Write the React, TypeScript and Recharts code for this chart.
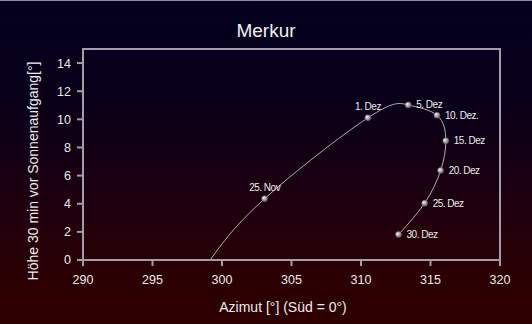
import React from 'react'
import { LineChart, Line, XAxis, YAxis, ReferenceArea } from 'recharts'

// Merkur – Höhe 30 min vor Sonnenaufgang, Nov/Dez
const DATES = ['', '25. Nov', '1. Dez', '5. Dez', '10. Dez.', '15. Dez', '20. Dez', '25. Dez', '30. Dez']
const AZIMUTH = [299.15, 303.07, 310.5, 313.4, 315.47, 316.1, 315.73, 314.58, 312.7]
const ALTITUDE = [0, 4.36, 10.11, 11.02, 10.29, 8.47, 6.36, 4.04, 1.81]

const X_TICKS = [290, 295, 300, 305, 310, 315, 320]
const Y_TICKS = [0, 2, 4, 6, 8, 10, 12, 14]

const data = DATES.map((date, i) => ({ date, az: AZIMUTH[i], alt: ALTITUDE[i] }))

const LABEL_ABOVE = new Set(['25. Nov', '1. Dez'])

const FONT = '"Liberation Sans", Arial, sans-serif'
const AXIS = '#a29cab'
const TEXT = '#ececec'

const Dot = (props: any) => {
  const { cx, cy, payload, index } = props
  if (!payload.date) return <g key={`d${index}`} />
  const above = LABEL_ABOVE.has(payload.date)
  return (
    <g key={`d${index}`}>
      <circle cx={cx} cy={cy} r={3} fill="url(#ball)" stroke="#6c6c70" strokeWidth={0.5} />
      <text
        x={above ? cx : cx + 8}
        y={above ? cy - 8 : cy + 3.5}
        textAnchor={above ? 'middle' : 'start'}
        fontSize={10}
        letterSpacing={-0.5}
        fill={TEXT}
        fontFamily={FONT}
      >
        {payload.date}
      </text>
    </g>
  )
}

export default function App() {
  return (
    <div
      style={{
        position: 'fixed',
        left: 0,
        top: 0,
        width: 532,
        height: 324,
        borderTop: '1px solid #8c8c9c',
        boxSizing: 'border-box',
        background: 'linear-gradient(to bottom, #03001e 0%, #080019 30%, #1c0010 60%, #2b0004 85%, #2e0000 100%)',
        fontFamily: FONT,
      }}
    >
      <LineChart width={532} height={323} data={data} margin={{ top: 48, right: 32, bottom: 39, left: 53 }}>
        <XAxis
          dataKey="az"
          type="number"
          domain={[290, 320]}
          ticks={X_TICKS}
          interval={0}
          height={25}
          stroke={AXIS}
          strokeWidth={2}
          tickSize={6}
          tickMargin={9}
          tick={{ fill: TEXT, fontSize: 12.5, fontFamily: FONT }}
        />
        <YAxis
          dataKey="alt"
          type="number"
          domain={[0, 15]}
          ticks={Y_TICKS}
          interval={0}
          width={30}
          stroke={AXIS}
          strokeWidth={2}
          tickSize={6}
          tickMargin={6}
          tick={{ fill: TEXT, fontSize: 12.5, fontFamily: FONT }}
        />
        <ReferenceArea x1={290} x2={320} y1={0} y2={15} fill="none" stroke={AXIS} strokeWidth={2} />
        <Line
          dataKey="alt"
          type="natural"
          stroke="#b9a9b2"
          strokeWidth={1}
          dot={Dot}
          activeDot={false}
          isAnimationActive={false}
        />
      </LineChart>
      <svg
        width={532}
        height={324}
        style={{ position: 'absolute', left: 0, top: -1, pointerEvents: 'none' }}
      >
        <defs>
          <radialGradient id="ball" cx="35%" cy="35%" r="70%">
            <stop offset="0%" stopColor="#f4f4f4" />
            <stop offset="60%" stopColor="#9a9a9e" />
            <stop offset="100%" stopColor="#5a5a60" />
          </radialGradient>
        </defs>
        <text x={266} y={37} textAnchor="middle" fontSize={19} fill="#f2f2f2" fontFamily={FONT}>
          Merkur
        </text>
        <text x={283} y={312} textAnchor="middle" fontSize={14} fill={TEXT} fontFamily={FONT}>
          Azimut [°] (Süd = 0°)
        </text>
        <text
          transform="translate(38,171) rotate(-90)"
          textAnchor="middle"
          fontSize={14}
          fill={TEXT}
          fontFamily={FONT}
        >
          Höhe 30 min vor Sonnenaufgang[°]
        </text>
      </svg>
    </div>
  )
}
